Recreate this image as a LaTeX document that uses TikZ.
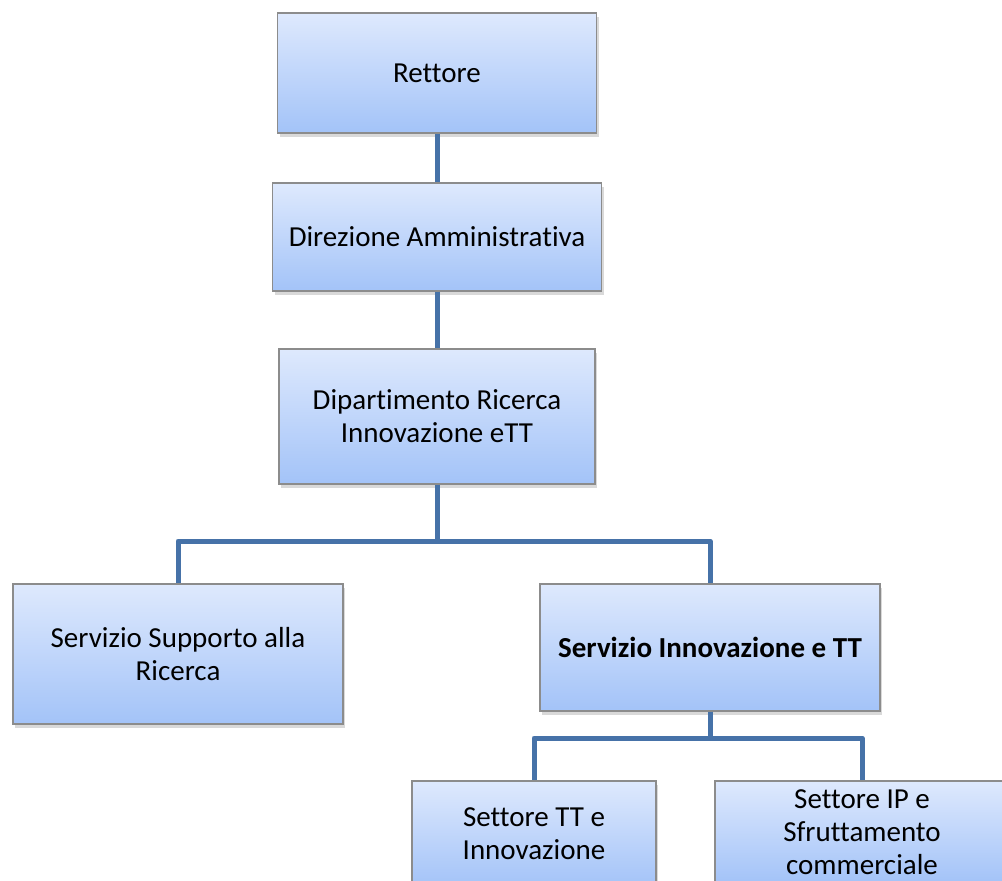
\documentclass[tikz,border=0pt]{standalone}
\usepackage{fontspec}
\setmainfont{Carlito}[Ligatures={NoCommon}]
\usetikzlibrary{shadows}
\definecolor{boxtop}{RGB}{222,233,253}
\definecolor{boxbot}{RGB}{163,195,248}
\definecolor{boxline}{RGB}{140,140,140}
\definecolor{link}{RGB}{70,114,168}
\tikzset{
  orgbox/.style={draw=boxline, line width=1.2pt, top color=boxtop, bottom color=boxbot,
    inner sep=0pt, align=center, font=\fontsize{29}{33}\selectfont,
    drop shadow={shadow xshift=2pt, shadow yshift=-4pt, opacity=0.25, fill=black!60}},
  orglink/.style={draw=link, line width=5pt, line join=round}
}
\begin{document}
\begin{tikzpicture}[x=1pt, y=-1pt]
\useasboundingbox (0,0) rectangle (1002,881);
\node[orgbox, minimum width=319pt, minimum height=120pt] (rett) at (437,73) {Rettore};
\node[orgbox, minimum width=329pt, minimum height=108pt] (dir) at (437,237) {Direzione Amministrativa};
\node[orgbox, minimum width=316pt, minimum height=135pt] (dip) at (437,416.5) {Dipartimento Ricerca\\Innovazione eTT};
\node[orgbox, minimum width=330pt, minimum height=140pt] (sup) at (178,654) {Servizio Supporto alla\\Ricerca};
\node[orgbox, minimum width=340pt, minimum height=127pt] (inn) at (710,647.5) {\textbf{Servizio Innovazione e TT}};
\node[orgbox, minimum width=244pt, minimum height=106pt] (stt) at (534,834) {Settore TT e\\Innovazione};
\node[orgbox, minimum width=294pt, minimum height=102pt] (sip) at (862,832) {Settore IP e\\Sfruttamento\\commerciale};
\coordinate (j1) at (437,541);
\coordinate (j2) at (710,738);
\draw[orglink] (rett.south) -- (dir.north);
\draw[orglink] (dir.south) -- (dip.north);
\draw[orglink] (dip.south) -- (j1) -| (sup.north);
\draw[orglink] (j1) -| (inn.north);
\draw[orglink] (inn.south) -- (j2) -| (stt.north);
\draw[orglink] (j2) -| (sip.north);
\end{tikzpicture}
\end{document}
